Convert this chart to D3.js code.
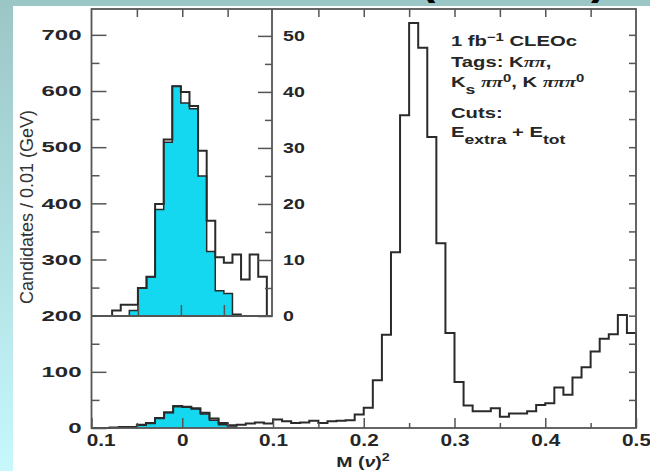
<!DOCTYPE html>
<html>
<head>
<meta charset="utf-8">
<script src="https://cdn.jsdelivr.net/npm/d3@7"></script>
<style>
	body { margin: 0; }
	svg { display: block; font-family: "Liberation Sans", Arial, sans-serif; }
</style>
</head>
<body>
<svg id="chart" width="650" height="471"></svg>
<script>
"use strict";

// Data (bins are 0.01 wide)

const binWidth = 0.01;

// main histogram, all candidates, first bin starts at -0.10
const mainStart = -0.1;
const mainCounts = [
	0, 0, 1, 2, 2, 6, 9, 18, 28, 39,
	38, 35, 27, 17, 9, 5, 6, 8, 10, 8,
	15, 12, 9, 10, 13, 9, 12, 13, 14, 24,
	36, 85, 166, 313, 557, 721, 677, 518, 329, 169,
	82, 40, 30, 30, 35, 20, 26, 26, 30, 41,
	44, 72, 59, 90, 108, 136, 159, 167, 201, 169
];

// main histogram, shaded part, first bin starts at -0.05
const mainSigStart = -0.05;
const mainSigCounts = [5, 8, 17, 27, 38, 37, 34, 25, 14, 6, 2];

// inset histogram, first bin starts at -0.08
const insetStart = -0.08;
const insetCounts = [1, 2, 2, 5, 7, 20, 31.5, 41, 40, 37.5, 29.5, 17, 10.5, 9.5, 11, 6.5, 11, 7];

// inset shaded part, first bin starts at -0.06
const insetSigStart = -0.06;
const insetSigCounts = [1, 5, 7, 19, 31, 41, 38, 37, 25, 11.5, 4.5, 4, 0.3];

// ticks
const yTicks = [0, 100, 200, 300, 400, 500, 600, 700];
const yMinorTicks = [50, 150, 250, 350, 450, 550, 650];
const yRightTicks = d3.range(50, 750, 50);
const xTicks = [-0.1, 0, 0.1, 0.2, 0.3, 0.4, 0.5];
const xTickLabels = ["0.1", "0", "0.1", "0.2", "0.3", "0.4", "0.5"];
const xMinorTicks = [-0.05, 0.05, 0.15, 0.25, 0.35, 0.45];
const xTopTicks = [-0.05, 0, 0.05, 0.15, 0.2, 0.25, 0.3, 0.35, 0.4, 0.45];
const insetYTicks = [0, 10, 20, 30, 40, 50];
const insetYMinorTicks = [5, 15, 25, 35, 45];
const insetXTicks = [-0.05, 0, 0.05];

// legend lines: [text, style]
const legendLines = [
	[["1 fb", ""], ["\u22121", "sup"], [" CLEOc", ""]],
	[["Tags: K", ""], ["\u03c0\u03c0", "pi"], [",", ""]],
	[["K", ""], ["s", "sub"], [" ", ""], ["\u03c0\u03c0", "pi"], ["0", "sup"], [", K ", ""], ["\u03c0\u03c0\u03c0", "pi"], ["0", "sup"]],
	[["Cuts:", ""]],
	[["E", ""], ["extra", "sub"], [" + E", ""], ["tot", "sub"]]
];
const legendBaselines = [46, 67, 87, 118, 137];

const yTitle = "Candidates / 0.01 (GeV)";

// Set up

const axisColor = "#555";
const histColor = "#2a2a2a";
const fillColor = "#14d8f0";
const textColor = "#262626";

const svg = d3.select("#chart");

const defs = svg.append("defs");
const grad = defs.append("linearGradient")
	.attr("id", "bg")
	.attr("x1", 0).attr("y1", 0)
	.attr("x2", 0).attr("y2", 1);
grad.append("stop").attr("offset", "0%").attr("stop-color", "#9bc6c6");
grad.append("stop").attr("offset", "100%").attr("stop-color", "#c6f8fc");

svg.append("rect").attr("width", 650).attr("height", 471).attr("fill", "url(#bg)");
svg.append("rect")
	.attr("x", 13).attr("y", 6)
	.attr("width", 637).attr("height", 465)
	.attr("fill", "#fff");

// bits of a cut off title above the panel
svg.append("text").attr("x", 420).attr("y", -7)
	.attr("font-size", 46).attr("font-weight", "bold").text("(");
svg.append("text").attr("x", 591).attr("y", -7)
	.attr("font-size", 46).attr("font-weight", "bold").text(")");

// Scales
const x = d3.scaleLinear().domain([-0.1, 0.5]).range([91.5, 636]);
const y = d3.scaleLinear().domain([0, 746]).range([428, 9]);
const xi = d3.scaleLinear().domain([-0.104, 0.106]).range([91.5, 272]);
const yi = d3.scaleLinear().domain([0, 54.8]).range([316, 9]);

// Histograms

function stepPoints(start, counts) {
	// turns bin counts into the outline of a step histogram
	var pts = [[start, 0]];
	counts.forEach(function(c, i) {
		pts.push([start + i * binWidth, c]);
		pts.push([start + (i + 1) * binWidth, c]);
	});
	pts.push([start + counts.length * binWidth, 0]);
	return pts;
}

function drawHist(xs, ys, start, counts, filled) {
	var pts = stepPoints(start, counts);
	if (filled) {
		svg.append("path")
			.datum(pts)
			.attr("d", d3.area()
				.x(function(d) { return xs(d[0]); })
				.y0(ys(0))
				.y1(function(d) { return ys(d[1]); }))
			.attr("fill", fillColor);
	}
	svg.append("path")
		.datum(pts)
		.attr("d", d3.line()
			.x(function(d) { return xs(d[0]); })
			.y(function(d) { return ys(d[1]); }))
		.attr("fill", "none")
		.attr("stroke", histColor)
		.attr("stroke-width", filled ? 1.5 : 2)
		.attr("stroke-linejoin", "miter");
}

drawHist(x, y, mainSigStart, mainSigCounts, true);
drawHist(x, y, mainStart, mainCounts, false);
drawHist(xi, yi, insetSigStart, insetSigCounts, true);
drawHist(xi, yi, insetStart, insetCounts, false);

// Axes

function drawAxis(axis, tx, ty) {
	var g = svg.append("g")
		.attr("transform", "translate(" + tx + "," + ty + ")")
		.call(axis);
	g.select(".domain").remove();
	g.selectAll("line").attr("stroke", axisColor).attr("stroke-width", 1.5);
	g.attr("font-family", null).attr("font-size", null);
	return g;
}

function styleLabels(g, size, sx, xpos) {
	// axis labels in the original are wide and heavy
	var t = g.selectAll("text")
		.attr("font-size", size)
		.attr("font-weight", "bold")
		.attr("fill", textColor)
		.attr("transform", "scale(" + sx + ",1)");
	if (xpos !== undefined) t.attr("x", xpos / sx);
}

// frame
svg.append("rect")
	.attr("x", x.range()[0]).attr("y", y.range()[1])
	.attr("width", x.range()[1] - x.range()[0])
	.attr("height", y.range()[0] - y.range()[1])
	.attr("fill", "none")
	.attr("stroke", axisColor)
	.attr("stroke-width", 1.8);

// left
var gl = drawAxis(d3.axisLeft(y).tickValues(yTicks).tickSize(-15).tickPadding(10), x.range()[0], 0);
styleLabels(gl, 15, 1.6, -10);
drawAxis(d3.axisLeft(y).tickValues(yMinorTicks).tickSize(-8).tickFormat(""), x.range()[0], 0);

// right
drawAxis(d3.axisRight(y).tickValues(yRightTicks).tickSize(-7).tickFormat(""), x.range()[1], 0);

// bottom
var gb = drawAxis(d3.axisBottom(x).tickValues(xTicks).tickSize(-10).tickPadding(7)
	.tickFormat(function(d, i) { return xTickLabels[i]; }), 0, y.range()[0]);
styleLabels(gb, 16, 1.3);
gb.selectAll("text").filter(function(d, i) { return i === 0; }).attr("x", 7);
drawAxis(d3.axisBottom(x).tickValues(xMinorTicks).tickSize(-5).tickFormat(""), 0, y.range()[0]);

// top
drawAxis(d3.axisTop(x).tickValues(xTopTicks).tickSize(-8).tickFormat(""), 0, y.range()[1]);

// inset frame
svg.append("path")
	.attr("d", "M" + xi.range()[0] + "," + yi.range()[0] +
		"H" + xi.range()[1] + "V" + yi.range()[1])
	.attr("fill", "none")
	.attr("stroke", axisColor)
	.attr("stroke-width", 1.8);

var gi = drawAxis(d3.axisRight(yi).tickValues(insetYTicks).tickSize(-14).tickPadding(11), xi.range()[1], 0);
styleLabels(gi, 14, 1.4, 11);
drawAxis(d3.axisRight(yi).tickValues(insetYMinorTicks).tickSize(-7).tickFormat(""), xi.range()[1], 0);
drawAxis(d3.axisBottom(xi).tickValues(insetXTicks).tickSize(-11).tickFormat(""), 0, yi.range()[0]);

// Titles

svg.append("text")
	.attr("transform", "translate(33,207) rotate(-90)")
	.attr("text-anchor", "middle")
	.attr("font-size", 18)
	.attr("fill", "#333")
	.text(yTitle);

var xt = svg.append("text")
	.attr("transform", "translate(363,467) scale(1.3,1)")
	.attr("text-anchor", "middle")
	.attr("font-size", 15)
	.attr("font-weight", "bold")
	.attr("fill", textColor);
xt.append("tspan").text("M (");
xt.append("tspan").attr("font-style", "italic").text("\u03bd");
xt.append("tspan").text(")");
xt.append("tspan").attr("dy", -6).attr("font-size", 11).text("2");

// Legend

const legendSx = 1.35;
const shifts = { "": 0, pi: 0, sup: -5, sub: 7 };

legendLines.forEach(function(line, i) {
	var t = svg.append("text")
		.attr("transform", "translate(451," + legendBaselines[i] + ") scale(" + legendSx + ",1)")
		.attr("font-size", 15)
		.attr("font-weight", "bold")
		.attr("fill", textColor);
	var level = 0;
	line.forEach(function(seg) {
		var s = seg[1];
		var span = t.append("tspan")
			.attr("dy", shifts[s] - level)
			.text(seg[0]);
		level = shifts[s];
		if (s === "sup") span.attr("font-size", 11);
		if (s === "sub") span.attr("font-size", 13);
		if (s === "pi") span.attr("font-style", "italic").attr("font-family", "'Liberation Serif', serif");
	});
});
</script>
</body>
</html>
